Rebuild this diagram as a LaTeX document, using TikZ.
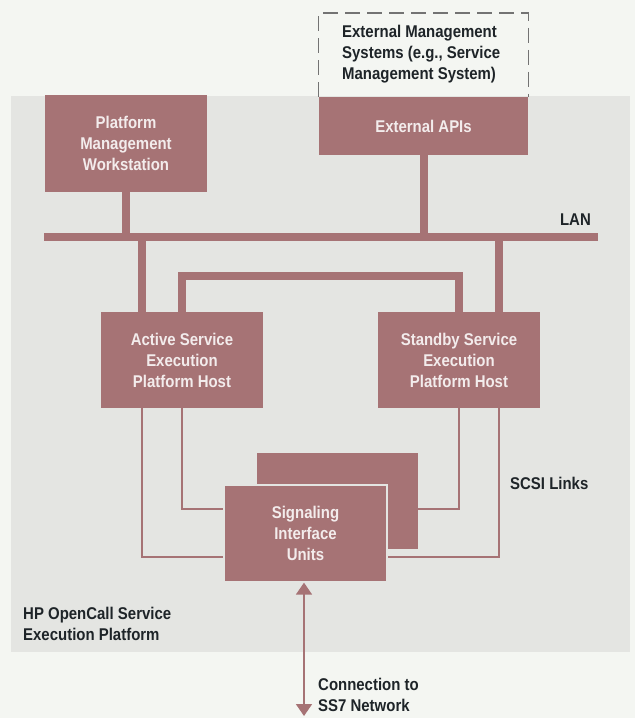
\documentclass[tikz,border=0pt]{standalone}
\usepackage{fontspec}
\setmainfont{Liberation Sans}[FakeStretch=0.88]
\usetikzlibrary{arrows.meta}
\definecolor{paper}{RGB}{244,246,242}
\definecolor{panel}{RGB}{228,229,226}
\definecolor{rose}{RGB}{166,115,117}
\definecolor{boxtext}{RGB}{243,236,236}
\definecolor{ink}{RGB}{30,36,40}
\definecolor{dashgray}{RGB}{115,115,115}

\begin{document}
\begin{tikzpicture}[x=1pt,y=-1pt,
  every node/.style={font=\fontsize{17}{21}\selectfont\bfseries},
  unit/.style={fill=rose, text=boxtext, align=center, inner sep=0pt},
  caption/.style={text=ink, align=left, inner sep=0pt},
  bus/.style={draw=rose, line width=8pt},
  link/.style={draw=rose, line width=1.6pt},
]
\useasboundingbox (0,0) rectangle (635,718);
\fill[paper] (0,0) rectangle (635,718);
% the platform area
\fill[panel] (11,96) rectangle (630,652);

% LAN backbone
\coordinate (lanW) at (44,236.5);
\coordinate (lanE) at (598,236.5);
\draw[bus] (lanW) -- (lanE);

% units
\node[unit, minimum width=162pt, minimum height=97pt] (pmw) at (126,143.5)
  {Platform\\Management\\Workstation};
\node[unit, minimum width=209pt, minimum height=58pt] (api) at (423.5,126)
  {External APIs};
\node[unit, minimum width=162pt, minimum height=96pt] (active) at (182,360)
  {Active Service\\Execution\\Platform Host};
\node[unit, minimum width=162pt, minimum height=96pt] (standby) at (459,360)
  {Standby Service\\Execution\\Platform Host};
\node[unit, minimum width=161pt, minimum height=96pt] (siuback) at (337.5,501) {};
\node[unit, draw=panel, line width=1.3pt, minimum width=163pt, minimum height=97pt]
  (siu) at (305.5,533.5) {Signaling\\Interface\\Units};

% external management systems (dashed outline)
\coordinate (dashtop) at (423.5,13);
\draw[dashgray, line width=1.2pt, dash pattern=on 15pt off 7pt]
  (api.north west) |- (dashtop) -| (api.north east);
\node[caption, anchor=west] (ems) at (342,54)
  {External Management\\Systems (e.g., Service\\Management System)};

% drops to the LAN
\draw[bus] (pmw.south) -- (pmw.south |- lanW);
\draw[bus] (api.south) -- (api.south |- lanW);
\draw[bus] ([xshift=-40pt]active.north) -- ([xshift=-40pt]active.north |- lanW);
\draw[bus] ([xshift=40pt]standby.north) -- ([xshift=40pt]standby.north |- lanW);
% host-to-host link
\draw[bus] (active.north) -- ++(0,-36) -| (standby.north);

% SCSI links
\draw[link] ([xshift=-40pt]active.south) |- ([yshift=-23.5pt]siu.west);
\draw[link] (active.south) |- ([yshift=24.5pt]siu.west);
\draw[link] (standby.south) |- ([yshift=-8pt]siuback.east);
\draw[link] ([xshift=40pt]standby.south) |- ([yshift=-23.5pt]siu.east);

% connection to the SS7 network
\coordinate (ss7) at (304,716);
\draw[link, line width=1.8pt, {Triangle[length=12pt,width=16pt]}-{Triangle[length=12pt,width=16pt]}]
  (siu.south -| ss7) -- (ss7);

% captions
\node[caption, anchor=east] (lanlbl) at (591,220) {LAN};
\node[caption, anchor=west] (scsi) at (510,483) {SCSI Links};
\node[caption, anchor=west] (hp) at (23,623.5) {HP OpenCall Service\\Execution Platform};
\node[caption, anchor=west] (conn) at (318,694.5) {Connection to\\SS7 Network};
\end{tikzpicture}
\end{document}
